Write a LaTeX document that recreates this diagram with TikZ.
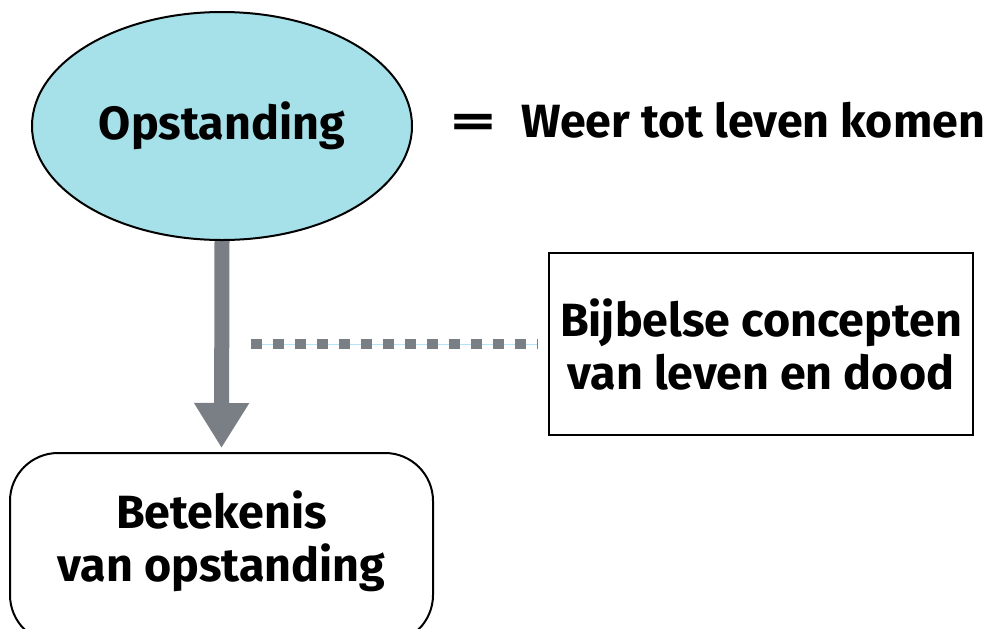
\documentclass[tikz,border=0pt]{standalone}
\usepackage{fontspec}
\setmainfont{Fira Sans}
\usetikzlibrary{arrows.meta,shapes.geometric,backgrounds}
\definecolor{ellfill}{HTML}{A6E0E8}
\definecolor{arrgray}{HTML}{7A7F86}
\definecolor{thinblue}{HTML}{B5E3F5}
\tikzset{
  lbl/.style={font=\fontsize{23.3pt}{26.5pt}\selectfont\bfseries, align=center},
  ellnode/.style={ellipse, draw=black, line width=1pt, fill=ellfill, minimum width=190pt, minimum height=114pt, inner sep=0pt},
  rectnode/.style={rectangle, draw=black, line width=1pt, minimum width=212pt, minimum height=91pt, inner sep=0pt},
  roundnode/.style={rectangle, rounded corners=24pt, draw=black, line width=1pt, minimum width=211.5pt, minimum height=95pt, inner sep=0pt},
  bigarrow/.style={draw=arrgray, line width=7.5pt, -{Triangle[width=26pt,length=22.5pt]}},
  dotline/.style={draw=arrgray, line width=5pt, dash pattern=on 5.5pt off 5.5pt},
}
\begin{document}
\begin{tikzpicture}[x=0.5pt,y=-0.5pt]
\clip (0,0) rectangle (1000,628);
\node[ellnode] (ops) at (222,126) {};
\node[lbl] (opstxt) at (222,126) {Opstanding};
\node[lbl, anchor=base] (eq) at (473,137) {\scalebox{1.9}[1]{=}};
\node[lbl, anchor=base west] (weer) at (514,137) {Weer tot leven komen};
\node[rectnode] (bij) at (761,344) {};
\node[lbl] (bijtxt) at (761,344) {Bijbelse concepten\\van leven en dood};
\node[roundnode] (bet) at (221.5,548) {};
\node[lbl] (bettxt) at (221.5,541) {Betekenis\\van opstanding};
\coordinate (dl) at (251,344);
\begin{scope}[on background layer]
\fill[white] (0,0) rectangle (1000,628);
\draw[bigarrow, shorten >=2pt] (ops.south) -- (bet.north);
\end{scope}
\draw[thinblue, line width=0.5pt, shorten >=5pt] (dl) -- (bij.west);
\draw[dotline, shorten >=5pt] (dl) -- (bij.west);
\end{tikzpicture}
\end{document}
